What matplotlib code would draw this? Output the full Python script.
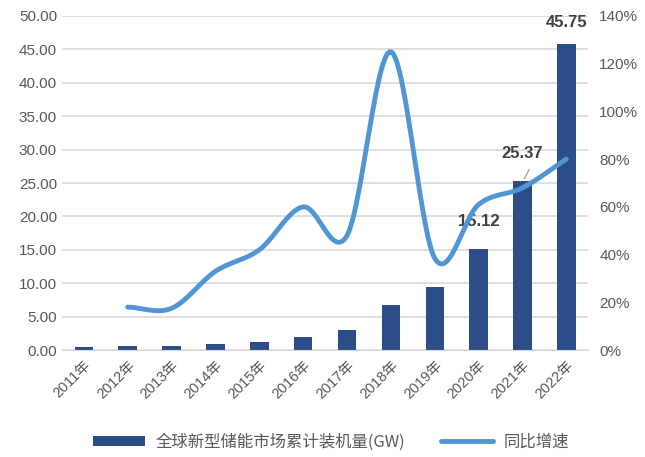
import numpy as np
import matplotlib.pyplot as plt

plt.rcParams['font.family'] = ['Liberation Sans', 'Noto Sans CJK SC', 'DejaVu Sans']

years = ['2011年', '2012年', '2013年', '2014年', '2015年', '2016年',
         '2017年', '2018年', '2019年', '2020年', '2021年', '2022年']
capacity = [0.4, 0.55, 0.65, 0.9, 1.2, 1.9, 2.95, 6.7, 9.4, 15.12, 25.37, 45.75]
growth = [None, 18.0, 17.5, 33.0, 42.0, 60.0, 48.0, 125.0, 38.5, 61.0, 68.0, 80.0]
labelled = {9: '15.12', 10: '25.37', 11: '45.75'}

bar_color = '#2C4D88'
line_color = '#5096D3'
tick_color = '#595959'


def smooth(xs, ys, n=30):
    # catmull-rom style smoothing, similar to the office "smoothed line"
    xs, ys = np.asarray(xs, float), np.asarray(ys, float)
    px = np.concatenate([[2 * xs[0] - xs[1]], xs, [2 * xs[-1] - xs[-2]]])
    py = np.concatenate([[2 * ys[0] - ys[1]], ys, [2 * ys[-1] - ys[-2]]])
    out_x, out_y = [], []
    t = np.linspace(0, 1, n)
    for i in range(1, len(px) - 2):
        for p, out in ((px, out_x), (py, out_y)):
            p0, p1, p2, p3 = p[i - 1], p[i], p[i + 1], p[i + 2]
            out.extend(0.5 * (2 * p1 + (-p0 + p2) * t
                              + (2 * p0 - 5 * p1 + 4 * p2 - p3) * t ** 2
                              + (-p0 + 3 * p1 - 3 * p2 + p3) * t ** 3))
    return np.array(out_x), np.array(out_y)


fig = plt.figure(figsize=(6.45, 4.57), dpi=100)
ax = fig.add_axes([0.096, 0.234, 0.816, 0.731])
x = np.arange(len(years))

ax.bar(x, capacity, width=0.42, color=bar_color, zorder=2,
       label='全球新型储能市场累计装机量(GW)')
ax.set_xlim(-0.5, len(years) - 0.5)
ax.set_ylim(0, 50)
ax.set_yticks(np.arange(0, 51, 5))
ax.set_yticklabels([f'{v:.2f}' for v in np.arange(0, 51, 5)])
ax.grid(axis='y', color='#D9D9D9', linewidth=1.2, zorder=0)
ax.set_xticks(x)
ax.set_xticklabels(years, rotation=45, ha='right', rotation_mode='anchor')
ax.tick_params(axis='both', length=0, colors=tick_color, labelsize=11)
ax.tick_params(axis='x', labelsize=10.5, pad=6)
for s in ax.spines.values():
    s.set_visible(False)
ax.spines['bottom'].set_visible(True)
ax.spines['bottom'].set_color('#D9D9D9')

for i, txt in labelled.items():
    off = 3.0 if i != 11 else 2.2
    ax.text(x[i], capacity[i] + off, txt, ha='center', va='bottom',
            fontsize=12, fontweight='bold', color='#404040', zorder=5)
ax.plot([x[10] + 0.05, x[10] + 0.15], [25.7, 27.0], color='#A0A0A0', lw=1, zorder=5)

ax2 = ax.twinx()
ax2.set_ylim(0, 140)
ax2.set_yticks(np.arange(0, 141, 20))
ax2.set_yticklabels([f'{v}%' for v in range(0, 141, 20)])
ax2.tick_params(axis='y', length=0, colors=tick_color, labelsize=11, pad=8)
for s in ax2.spines.values():
    s.set_visible(False)

gx = [i for i, g in enumerate(growth) if g is not None]
gy = [g for g in growth if g is not None]
sx, sy = smooth(gx, gy)
ax2.plot(sx, sy, color=line_color, lw=3.5, solid_capstyle='round', zorder=3,
         label='同比增速')

h1, l1 = ax.get_legend_handles_labels()
h2, l2 = ax2.get_legend_handles_labels()
fig.legend(h1 + h2, l1 + l2, loc='center', bbox_to_anchor=(0.513, 0.033), ncol=2,
           frameon=False, handlelength=3.2, handleheight=0.55, handletextpad=0.6,
           columnspacing=2.2, labelcolor=tick_color,
           prop={'family': ['Noto Sans CJK SC', 'DejaVu Sans'], 'size': 11.8})

fig.savefig('out.png', dpi=100)
